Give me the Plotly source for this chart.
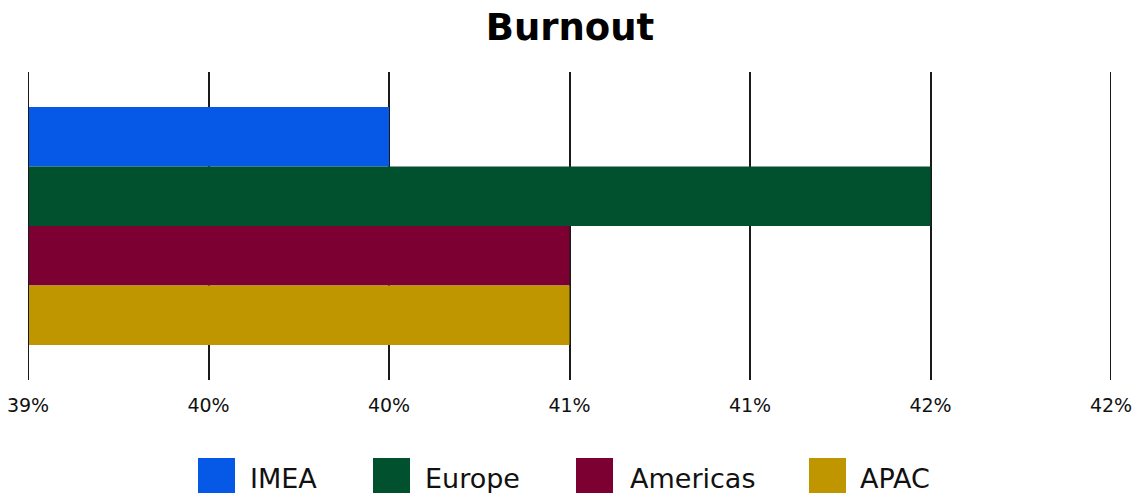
import plotly.graph_objects as go

# Burnout share by region (percent)
regions = ["IMEA", "Europe", "Americas", "APAC"]
burnout = [40.0, 41.5, 40.5, 40.5]
colors = ["#0559E6", "#02512E", "#7D0033", "#BF9500"]

# x-axis ticks and their (rounded) labels
tick_values = [39, 39.5, 40, 40.5, 41, 41.5, 42]
tick_labels = ["39%", "40%", "40%", "41%", "41%", "42%", "42%"]

FONT = "DejaVu Sans, sans-serif"
W, H = 1140, 493
ML, MR, MT, MB = 28, 29, 72, 113
PW, PH = W - ML - MR, H - MT - MB
GRID = "#1a1a1a"

fig = go.Figure()
for name, val, col in zip(regions, burnout, colors):
    fig.add_trace(go.Bar(
        y=["Burnout"], x=[val], name=name, orientation="h",
        marker=dict(color=col, line=dict(width=0)),
        showlegend=False, hoverinfo="x+name",
    ))

# gridlines at both ends of the axis range (plotly skips edge gridlines)
shapes = []
for xv in (tick_values[0], tick_values[-1]):
    shapes.append(dict(
        type="line", xref="x", yref="paper", x0=xv, x1=xv, y0=0, y1=1,
        line=dict(color=GRID, width=2), layer="above",
    ))

# custom legend: large colour squares with labels underneath the plot
def px_x(p):
    return (p - ML) / PW

def px_y(p):
    return (H - MB - p) / PH

square_left = [198, 373, 576, 809]
text_left = [248, 423, 628, 858]
sq = 37
annotations = []
for name, col, sx, tx in zip(regions, colors, square_left, text_left):
    shapes.append(dict(
        type="rect", xref="paper", yref="paper",
        x0=px_x(sx), x1=px_x(sx + sq), y0=px_y(458 + sq), y1=px_y(458),
        fillcolor=col, line=dict(width=0), layer="above",
    ))
    annotations.append(dict(
        text=name, xref="paper", yref="paper", x=px_x(tx), y=px_y(478),
        xanchor="left", yanchor="middle", showarrow=False,
        font=dict(family=FONT, size=27, color="#111111"),
    ))

fig.update_layout(
    width=W, height=H,
    margin=dict(l=ML, r=MR, t=MT, b=MB, pad=0, autoexpand=False),
    paper_bgcolor="white", plot_bgcolor="white",
    barmode="group", bargap=0.227,
    title=dict(text="<b>Burnout</b>", x=0.5, xanchor="center",
               y=1 - 27 / H, yanchor="middle",
               font=dict(family=FONT, size=37, color="#000000")),
    xaxis=dict(
        range=[39, 42], tickvals=tick_values, ticktext=tick_labels,
        showgrid=True, gridcolor=GRID, gridwidth=2,
        zeroline=False, showline=False, ticks="",
        ticklabelstandoff=12,
        tickfont=dict(family=FONT, size=19, color="#111111"),
        fixedrange=True,
    ),
    yaxis=dict(
        range=[0.5, -0.5], showticklabels=False, showgrid=False,
        zeroline=False, showline=False, fixedrange=True,
    ),
    shapes=shapes,
    annotations=annotations,
    showlegend=False,
)

fig.write_html("out.html")
